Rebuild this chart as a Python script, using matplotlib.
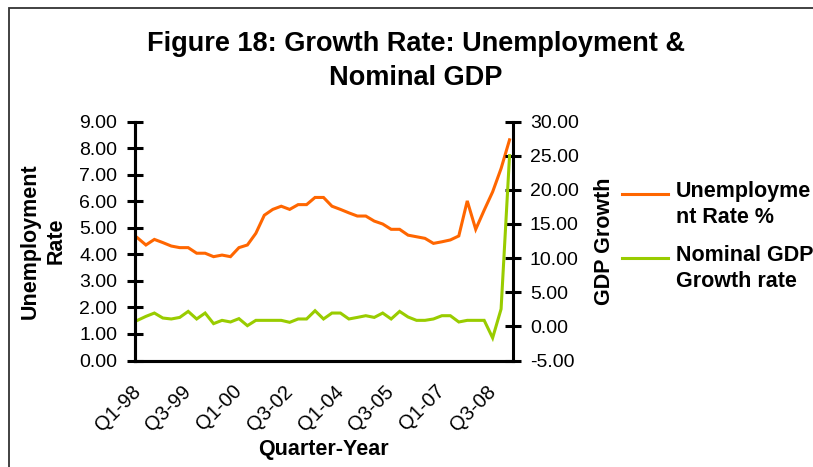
import numpy as np
import matplotlib.pyplot as plt
from matplotlib.lines import Line2D
from matplotlib.patches import Rectangle

plt.rcParams['font.family'] = ['Liberation Sans', 'DejaVu Sans']

# quarterly series Q1-98 .. Q1-09
unemployment = [4.62, 4.35, 4.56, 4.44, 4.31, 4.25, 4.25, 4.04, 4.04, 3.91,
                3.97, 3.91, 4.25, 4.35, 4.79, 5.47, 5.69, 5.81, 5.69, 5.87,
                5.87, 6.14, 6.14, 5.81, 5.69, 5.56, 5.44, 5.44, 5.25, 5.14,
                4.94, 4.94, 4.72, 4.66, 4.60, 4.41, 4.47, 4.54, 4.69, 6.01,
                4.94, 5.66, 6.35, 7.23, 8.31]
gdp_growth = [0.88, 1.46, 1.95, 1.22, 1.08, 1.31, 2.19, 1.08, 1.95, 0.40,
              0.88, 0.64, 1.13, 0.10, 0.88, 0.88, 0.88, 0.88, 0.59, 1.08,
              1.08, 2.29, 1.08, 1.95, 1.95, 1.08, 1.31, 1.56, 1.31, 1.95,
              1.08, 2.19, 1.37, 0.88, 0.88, 1.08, 1.56, 1.56, 0.64, 0.88,
              0.88, 0.88, -1.69, 2.54, 25.0]
tick_pos = [0, 6, 12, 18, 24, 30, 36, 42]
tick_labels = ['Q1-98', 'Q3-99', 'Q1-00', 'Q3-02', 'Q1-04', 'Q3-05', 'Q1-07', 'Q3-08']

orange = '#FF6600'
green = '#99CC00'

W, H = 813, 467
fig = plt.figure(figsize=(W / 100, H / 100), dpi=100)
ax = fig.add_axes([134.5 / W, 1 - 360.5 / H, 378 / W, 239 / H])
ax2 = ax.twinx()

x = np.arange(len(unemployment))
ax.plot(x, unemployment, color=orange, lw=2.2, solid_joinstyle='miter')
ax2.plot(x, gdp_growth, color=green, lw=2.2, solid_joinstyle='miter')

ax.set_xlim(-0.35, 44.35)
ax.set_ylim(0, 9)
ax2.set_ylim(-5, 30)
ax.set_yticks(np.arange(0, 10, 1))
ax.set_yticklabels(['%.2f' % v for v in np.arange(0, 10, 1)])
ax2.set_yticks(np.arange(-5, 31, 5))
ax2.set_yticklabels(['%.2f' % v for v in np.arange(-5, 31, 5)])

ax.set_xticks(tick_pos)
ax.set_xticklabels(tick_labels, rotation=45, ha='right', va='center',
                   rotation_mode='anchor', fontsize=14.5)
ax.tick_params(axis='x', length=0, pad=20)
ax.tick_params(axis='y', direction='inout', length=12, width=2.2,
               labelsize=14, pad=6.5)
ax2.tick_params(axis='y', direction='inout', length=12, width=2.2,
                labelsize=14, pad=6.5)

for a in (ax, ax2):
    a.spines['top'].set_visible(False)
    for s in ('left', 'right', 'bottom'):
        a.spines[s].set_linewidth(2.2)
ax.spines['right'].set_visible(False)

ax.set_xlabel('Quarter-Year', fontsize=15.5, fontweight='bold', labelpad=2)
ax.xaxis.set_label_coords(0.5, -(450 - 360.5) / 239, transform=ax.transAxes)
ax.xaxis.label.set_va('center')
ax.set_ylabel('Unemployment\nRate', fontsize=15.5, fontweight='bold',
              linespacing=1.3)
ax.yaxis.set_label_coords(-(134.5 - 43) / 378, 0.5, transform=ax.transAxes)
ax.yaxis.label.set_va('center')
ax2.set_ylabel('GDP Growth', fontsize=15.5, fontweight='bold', labelpad=11)

fig.text(416 / W, 1 - 31 / H, 'Figure 18: Growth Rate: Unemployment &\nNominal GDP',
         ha='center', va='top', fontsize=19.5, fontweight='bold', linespacing=1.4)

# legend drawn at the right of the plot
fig.add_artist(Line2D([622 / W, 668 / W], [1 - 194 / H] * 2, color=orange, lw=2.2))
fig.add_artist(Line2D([622 / W, 668 / W], [1 - 258 / H] * 2, color=green, lw=2.2))
fig.text(676 / W, 1 - 181 / H, 'Unemployme\nnt Rate %', fontsize=15.5,
         fontweight='bold', va='top', linespacing=1.3)
fig.text(676 / W, 1 - 245 / H, 'Nominal GDP\nGrowth rate', fontsize=15.5,
         fontweight='bold', va='top', linespacing=1.3)

# chart border
fig.add_artist(Rectangle((9 / W, -0.1), 1.0, 1.1 - 8.5 / H, transform=fig.transFigure,
                         fill=False, edgecolor='#333333', lw=1.3))

fig.savefig('out.png', dpi=100)
